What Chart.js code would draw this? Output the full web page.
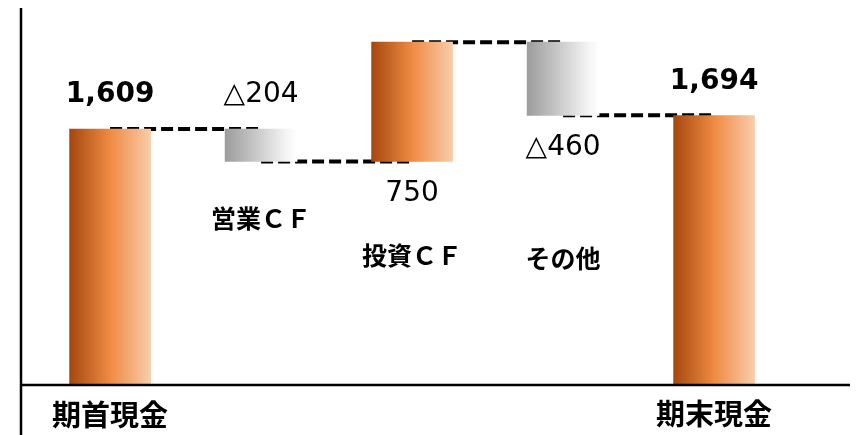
<!DOCTYPE html>
<html>
<head>
<meta charset="utf-8">
<script src="https://cdn.jsdelivr.net/npm/chart.js@4.4.0/dist/chart.umd.min.js"></script>
<style>
  html, body { margin: 0; padding: 0; background: #fff; overflow: hidden; }
  canvas { display: block; }
</style>
</head>
<body>
<canvas id="cf" width="857" height="435"></canvas>
<script>
// データ
var categories = ["期首現金", "営業ＣＦ", "投資ＣＦ", "その他", "期末現金"];
var changes = [1609, -204, 750, -460, 1694];
var isTotal = [true, false, false, false, true];
var valueLabels = ["1,609", "△204", "750", "△460", "1,694"];

// 見た目
var labelSide = ["above", "above", "below", "below", "above"];
var labelBold = [true, false, false, false, true];
var catLabelY = [415, 218, 255, 258, 414];
var catLabelSize = [29, 25, 25, 25, 29];

// 積み上げ計算
var ranges = [];
var running = 0;
for (var i = 0; i < changes.length; i++) {
	if (isTotal[i]) {
		ranges.push([0, changes[i]]);
		running = changes[i];
	} else {
		var next = running + changes[i];
		ranges.push([Math.min(running, next), Math.max(running, next)]);
		running = next;
	}
}

var orangeData = [];
var greyData = [];
for (var j = 0; j < ranges.length; j++) {
	if (isTotal[j] || changes[j] > 0) {
		orangeData.push({ x: j, y: ranges[j] });
	} else {
		greyData.push({ x: j, y: ranges[j] });
	}
}

var ORANGE_W = 81;
var GREY_W = 72;

function gradientFill(stops, width) {
	return function (c) {
		var chart = c.chart;
		if (!chart.chartArea || !c.raw) return stops[1][1];
		var cx = chart.scales.x.getPixelForValue(c.raw.x);
		var g = chart.ctx.createLinearGradient(cx - width / 2, 0, cx + width / 2, 0);
		stops.forEach(function (s) { g.addColorStop(s[0], s[1]); });
		return g;
	};
}

//点線と軸
var connectorPlugin = {
	id: "connectors",
	beforeDatasetsDraw: function (chart) {
		var ctx = chart.ctx;
		var xs = chart.scales.x, ys = chart.scales.y;
		ctx.save();
		ctx.strokeStyle = "#000";
		ctx.lineWidth = 4;
		ctx.setLineDash([12, 5]);
		var level = 0;
		for (var k = 0; k < changes.length - 1; k++) {
			level = isTotal[k] ? changes[k] : level + changes[k];
			var y = ys.getPixelForValue(level);
			ctx.beginPath();
			ctx.moveTo(xs.getPixelForValue(k), y);
			ctx.lineTo(xs.getPixelForValue(k + 1), y);
			ctx.stroke();
		}
		ctx.restore();
	},
	afterDraw: function (chart) {
		var ctx = chart.ctx;
		var a = chart.chartArea;
		var xs = chart.scales.x, ys = chart.scales.y;
		ctx.save();
		ctx.strokeStyle = "#000";
		ctx.lineWidth = 2.5;
		ctx.beginPath();
		ctx.moveTo(a.left, a.top);
		ctx.lineTo(a.left, chart.height);
		ctx.moveTo(a.left, a.bottom);
		ctx.lineTo(a.right, a.bottom);
		ctx.stroke();

		ctx.fillStyle = "#000";
		ctx.textAlign = "center";
		ctx.textBaseline = "middle";
		for (var k = 0; k < categories.length; k++) {
			var cx = xs.getPixelForValue(k);
			var top = ys.getPixelForValue(ranges[k][1]);
			var bottom = ys.getPixelForValue(ranges[k][0]);
			var ty = labelSide[k] === "above" ? top - 34 : bottom + 32;
			ctx.font = (labelBold[k] ? "bold " : "") + "28px 'DejaVu Sans'";
			ctx.fillText(valueLabels[k], cx, ty);

			ctx.font = "bold " + catLabelSize[k] + "px 'Noto Sans CJK JP'";
			ctx.fillText(categories[k], cx, catLabelY[k]);
		}
		ctx.restore();
	}
};

var chart = new Chart(document.getElementById("cf"), {
	type: "bar",
	data: {
		datasets: [
			{
				data: orangeData,
				barThickness: ORANGE_W,
				backgroundColor: gradientFill([[0, "#a5480f"], [0.5, "#ef8a43"], [1, "#f8cdab"]], ORANGE_W),
				borderWidth: 0
			},
			{
				data: greyData,
				barThickness: GREY_W,
				backgroundColor: gradientFill([[0, "#9c9c9c"], [0.85, "#f4f4f4"], [1, "#ffffff"]], GREY_W),
				borderWidth: 0
			}
		]
	},
	options: {
		responsive: false,
		animation: false,
		layout: { padding: { left: 21, top: 8, right: 7, bottom: 50 } },
		plugins: { legend: { display: false }, tooltip: { enabled: false } },
		datasets: { bar: { grouped: false } },
		scales: {
			x: { type: "linear", offset: false, min: -0.59, max: 4.9, display: false },
			y: { min: 0, max: 2370, display: false }
		}
	},
	plugins: [connectorPlugin]
});
</script>
</body>
</html>
